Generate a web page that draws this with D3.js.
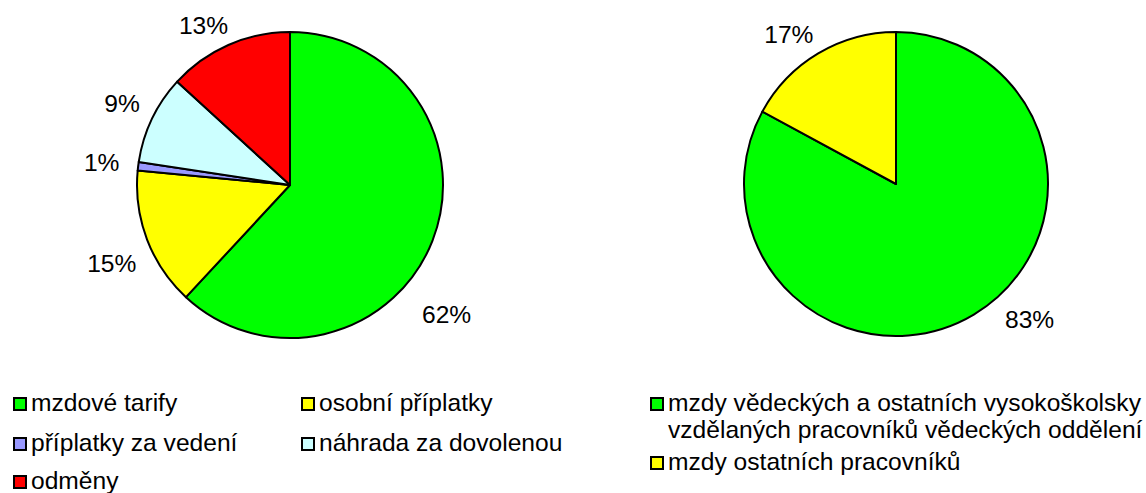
<!DOCTYPE html>
<html lang="cs">
<head>
    <meta charset="UTF-8">
    <title>Struktura mezd</title>
    <script src="https://cdn.jsdelivr.net/npm/d3@7"></script>
    <style>
        body { margin: 0; background: #fff; }
        svg text { font-family: "Liberation Sans", Arial, sans-serif; fill: #000; }
    </style>
</head>
<body>
<svg id="chart" width="1146" height="493"></svg>
<script>
    // left pie: skladba mzdových prostředků
    var leftNames = ["mzdové tarify", "osobní příplatky", "příplatky za vedení", "náhrada za dovolenou", "odměny"];
    var leftValues = [61.9, 14.6, 0.9, 9.4, 13.2];
    var leftColours = ["#00ff00", "#ffff00", "#9999ff", "#ccffff", "#ff0000"];

    // right pie
    var rightNames = ["mzdy vědeckých a ostatních vysokoškolsky|vzdělaných pracovníků vědeckých oddělení", "mzdy ostatních pracovníků"];
    var rightValues = [82.9, 17.1];
    var rightColours = ["#00ff00", "#ffff00"];

    // label tweaks (degrees, gap from rim) so labels sit like in Excel's best fit
    var leftLabelShift = [[18, 25], [-2.5, 15], [0, 18], [0.5, 14], [-4.5, 10]];
    var rightLabelShift = [[-14, 14], [-4.7, 11]];

    var svg = d3.select("#chart");
    var fontSize = 24.6;

    function drawPie(cx, cy, r, values, colours, shifts) {
        var g = svg.append("g").attr("transform", "translate(" + cx + "," + cy + ")");
        var pie = d3.pie().sort(null).value(function(d) { return d; });
        var arc = d3.arc().innerRadius(0).outerRadius(r);
        var arcs = pie(values);

        g.selectAll("path")
            .data(arcs)
            .enter()
            .append("path")
            .attr("d", arc)
            .attr("fill", function(d, i) { return colours[i]; })
            .attr("stroke", "#000")
            .attr("stroke-width", 2)
            .attr("stroke-linejoin", "round");

        var total = d3.sum(values);
        g.selectAll("text")
            .data(arcs)
            .enter()
            .append("text")
            .attr("text-anchor", "middle")
            .attr("dominant-baseline", "central")
            .style("font-size", fontSize + "px")
            .text(function(d) { return Math.round(d.value / total * 100) + "%"; })
            .each(function(d, i) {
                var t = d3.select(this);
                var w = this.getComputedTextLength();
                var a = (d.startAngle + d.endAngle) / 2 + shifts[i][0] * Math.PI / 180;
                var ux = Math.sin(a), uy = -Math.cos(a);
                var dist = r + shifts[i][1] + (w / 2) * Math.abs(ux) + 9 * Math.abs(uy);
                t.attr("x", ux * dist).attr("y", uy * dist + 1);
            });
    }

    drawPie(290, 185, 153, leftValues, leftColours, leftLabelShift);
    drawPie(896, 184, 152, rightValues, rightColours, rightLabelShift);

    function legendItem(x, y, colour, lines) {
        var g = svg.append("g");
        g.append("rect")
            .attr("x", x + 1).attr("y", y + 1)
            .attr("width", 12).attr("height", 12)
            .attr("fill", colour)
            .attr("stroke", "#000")
            .attr("stroke-width", 2);
        var text = g.append("text")
            .attr("x", x + 18)
            .attr("y", y + 13.5)
            .style("font-size", fontSize + "px");
        lines.forEach(function(line, i) {
            text.append("tspan")
                .attr("x", x + 18)
                .attr("dy", i === 0 ? 0 : 27)
                .text(line);
        });
    }

    // left legend, two columns
    var colX = [13, 301];
    var rowY = [397, 437, 475];
    leftNames.forEach(function(name, i) {
        legendItem(colX[i % 2], rowY[Math.floor(i / 2)], leftColours[i], [name]);
    });

    // right legend, one column
    var rightRowY = [397, 456];
    rightNames.forEach(function(name, i) {
        legendItem(650, rightRowY[i], rightColours[i], name.split("|"));
    });
</script>
</body>
</html>
